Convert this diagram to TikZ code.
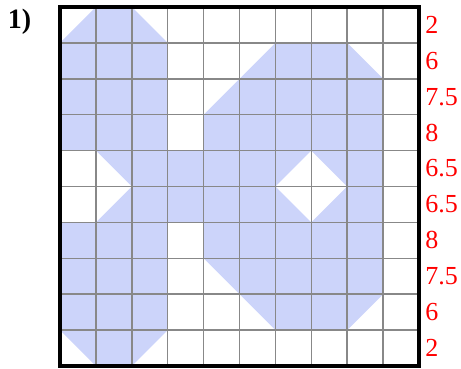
\documentclass[tikz,border=0pt]{standalone}
\usepackage{fontspec}
\setmainfont{Liberation Serif}
\definecolor{shapefill}{RGB}{204,212,250}
\definecolor{gridgray}{RGB}{136,136,136}
\begin{document}
\begin{tikzpicture}[x=35.9pt,y=35.9pt,
  gridline/.style={draw=gridgray,line width=1.5pt},
  frameline/.style={draw=black,line width=3.2pt,line cap=rect},
  rowlabel/.style={anchor=west,text=red,font=\fontsize{26}{26}\selectfont,inner sep=0pt},
  tasklabel/.style={font=\fontsize{28}{28}\selectfont\bfseries,inner sep=0pt}]
\useasboundingbox (-1.671,-0.056) rectangle (11.17,10.195);
% shaded figure with diamond hole
\fill[shapefill,even odd rule]
  (1,10) -- (2,10) -- (3,9) -- (3,6) -- (4,6) -- (4,7) -- (5,8) -- (6,9) -- (8,9) -- (9,8)
  -- (9,2) -- (8,1) -- (6,1) -- (5,2) -- (4,3) -- (4,4) -- (3,4) -- (3,1) -- (2,0) -- (1,0)
  -- (0,1) -- (0,4) -- (1,4) -- (2,5) -- (1,6) -- (0,6) -- (0,9) -- cycle
  (6,5) -- (7,6) -- (8,5) -- (7,4) -- cycle;
% grid
\draw[gridline,step=1] (0,0) grid (10,10);
% frame
\draw[frameline] (0,0) rectangle (10,10);
% task label
\node[tasklabel] (task) at (-1.13,9.6) {1)};
% row labels
\foreach \v [count=\i] in {2,6,7.5,8,6.5,6.5,8,7.5,6,2}{
  \node[rowlabel] (r\i) at (10.17,{10.5-\i}) {\v};
}
\end{tikzpicture}
\end{document}
